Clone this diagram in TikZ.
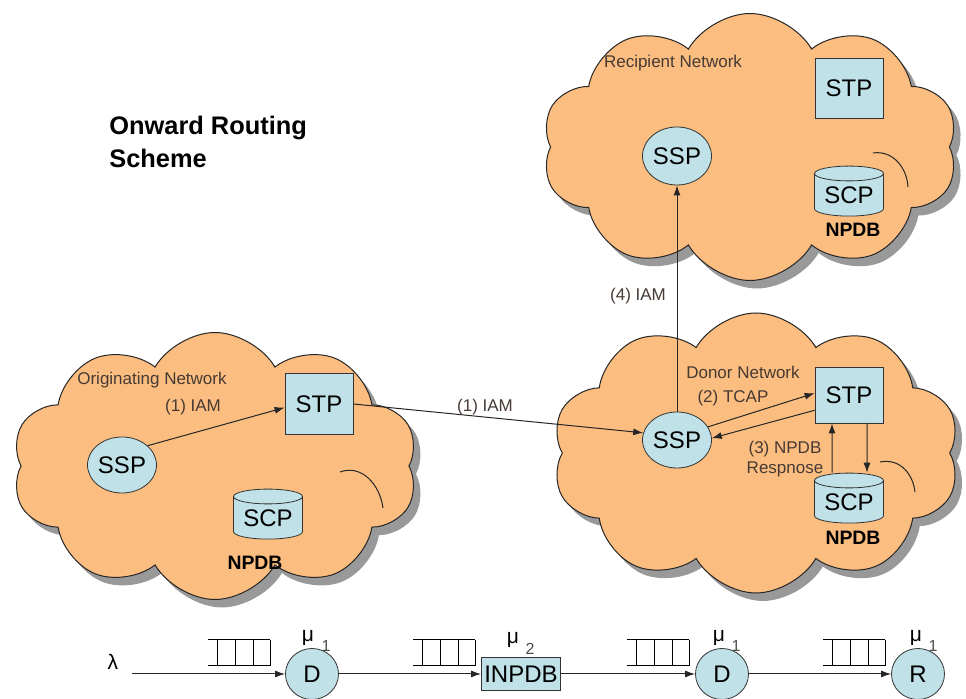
\documentclass[tikz,border=0pt]{standalone}
\usepackage{fontspec}
\setmainfont{Liberation Sans}
\usetikzlibrary{shapes.symbols,shapes.geometric,shadows,arrows.meta}

\definecolor{cloudfill}{RGB}{251,189,128}
\definecolor{boxfill}{RGB}{191,225,231}
\definecolor{labeltext}{RGB}{70,58,52}

\tikzset{
  net/.style={cloud, cloud puffs=10, cloud puff arc=120, aspect=1.6, inner sep=0pt,
    draw=black!85, fill=cloudfill, line width=0.5pt,
    drop shadow={shadow xshift=3.5pt, shadow yshift=-4pt, fill=black!50, opacity=0.8}},
  fold/.style={draw=black!85, line width=0.5pt},
  ssp/.style={ellipse, draw=black!80, fill=boxfill, minimum width=34.5pt, minimum height=28pt,
    inner sep=0pt, font=\fontsize{12}{14}\selectfont},
  stp/.style={rectangle, draw=black!80, fill=boxfill, minimum width=34pt, minimum height=30pt,
    inner sep=0pt, font=\fontsize{12}{14}\selectfont},
  scp/.style={cylinder, shape border rotate=90, aspect=0.3, draw=black!80, fill=boxfill,
    minimum width=34.5pt, minimum height=25pt, inner sep=0pt, font=\fontsize{12}{14}\selectfont},
  lbl/.style={text=labeltext, font=\fontsize{8.5}{10}\selectfont, inner sep=0pt},
  npdb/.style={font=\fontsize{9.7}{11}\selectfont\bfseries, inner sep=0pt},
  arr/.style={-{Latex[length=5pt,width=3.5pt]}, line width=0.5pt, draw=black!85},
  server/.style={ellipse, draw=black!80, fill=boxfill, minimum width=26.5pt, minimum height=25.5pt,
    inner sep=0pt, font=\fontsize{12}{14}\selectfont},
  dbbox/.style={rectangle, draw=black!80, fill=boxfill, minimum width=39.5pt, minimum height=16.5pt,
    inner sep=0pt, font=\fontsize{12}{14}\selectfont},
  rate/.style={inner sep=0pt, font=\fontsize{10.5}{12}\selectfont},
  rateidx/.style={inner sep=0pt, text=black!70, font=\fontsize{8}{9}\selectfont},
}

\begin{document}
\begin{tikzpicture}[x=0.5pt,y=-0.5pt]
  \useasboundingbox (0,0) rectangle (966,699);

  %title
  \node[anchor=west, align=left, inner sep=0pt, font=\fontsize{12.7}{16.5}\selectfont\bfseries]
    (title) at (109,142) {Onward Routing\\Scheme};

  %the three networks
  \node[net, minimum width=208pt, minimum height=133.5pt] (recipient) at (750,147) {};
  \node[net, minimum width=204pt, minimum height=140pt] (donor) at (756,453) {};
  \node[net, minimum width=203pt, minimum height=133.5pt] (origin) at (215,466) {};
  %folds inside the clouds
  \draw[fold] (340,472) .. controls (362,464) and (380,485) .. (383,508);
  \draw[fold] (880,462) .. controls (900,458) and (913,474) .. (915,492);
  \draw[fold] (873,153) .. controls (893,150) and (907,168) .. (908,187);

  %originating network
  \node[lbl] (originname) at (152,380) {Originating Network};
  \node[ssp] (oSSP) at (122,465) {SSP};
  \node[stp, minimum height=30.5pt] (oSTP) at (319,404) {STP};
  \node[scp] (oSCP) at (268,518) {SCP};
  \node[npdb] (oNPDB) at (255,563) {NPDB};
  \draw[arr] (oSSP.37) -- (oSTP.186);
  \node[lbl] (oIAM) at (193,407) {(1) IAM};

  %recipient network
  \node[lbl] (recipientname) at (673,63) {Recipient Network};
  \node[ssp, minimum height=29pt] (rSSP) at (677,156) {SSP};
  \node[stp] (rSTP) at (849,88) {STP};
  \node[scp] (rSCP) at (849,195) {SCP};
  \node[npdb] (rNPDB) at (853,230) {NPDB};

  %donor network
  \node[lbl] (donorname) at (743,372) {Donor Network};
  \node[ssp] (dSSP) at (677,440) {SSP};
  \node[stp, minimum height=28pt] (dSTP) at (849,395) {STP};
  \node[scp] (dSCP) at (849,502) {SCP};
  \node[npdb] (dNPDB) at (853,538) {NPDB};
  \draw[arr] (dSSP.23) -- (dSTP.177);
  \draw[arr] (dSTP.204) -- (dSSP.3);
  \draw[arr] ([xshift=-8.5pt]dSCP.north) -- ([xshift=-8.5pt]dSTP.south);
  \draw[arr] ([xshift=9pt]dSTP.south) -- ([xshift=9pt]dSCP.north);
  \node[lbl] (tcap) at (733,398) {(2) TCAP};
  \node[lbl, align=center] (npdbresp) at (785,459) {(3) NPDB\\Respnose};

  %between networks
  \draw[arr] (oSTP.east) -- (dSSP.168);
  \node[lbl] (dIAM) at (485,407) {(1) IAM};
  \draw[arr] (dSSP.north) -- (rSSP.south);
  \node[lbl] (rIAM) at (638,296) {(4) IAM};

  %queueing model
  \coordinate (src) at (132,674);
  \node[rate] (lam) at (113,662) {λ};
  \node[server] (D1) at (312,674) {D};
  \node[dbbox] (INPDB) at (521,674) {INPDB};
  \node[server] (D2) at (722,674) {D};
  \node[server] (R) at (918,674) {R};
  \draw[arr] (src) -- (D1);
  \draw[arr] (D1) -- (INPDB);
  \draw[arr] (INPDB) -- (D2);
  \draw[arr] (D2) -- (R);
  \foreach \qx in {208,413,627,823}{
    \draw[line width=0.5pt] (\qx,640) -- ++(62,0);
    \draw[line width=0.5pt] (\qx,666) -- ++(62,0);
    \foreach \v in {9,27,45,62}
      \draw[line width=0.5pt] (\qx+\v,640) -- (\qx+\v,666);
  }
  \node[rate] (mu1) at (308,638) {μ};
  \node[rateidx] (mu1i) at (326,646) {1};
  \node[rate] (mu2) at (513,640) {μ};
  \node[rateidx] (mu2i) at (530,649) {2};
  \node[rate] (mu3) at (719,638) {μ};
  \node[rateidx] (mu3i) at (736,646) {1};
  \node[rate] (mu4) at (916,638) {μ};
  \node[rateidx] (mu4i) at (933,646) {1};
\end{tikzpicture}
\end{document}
